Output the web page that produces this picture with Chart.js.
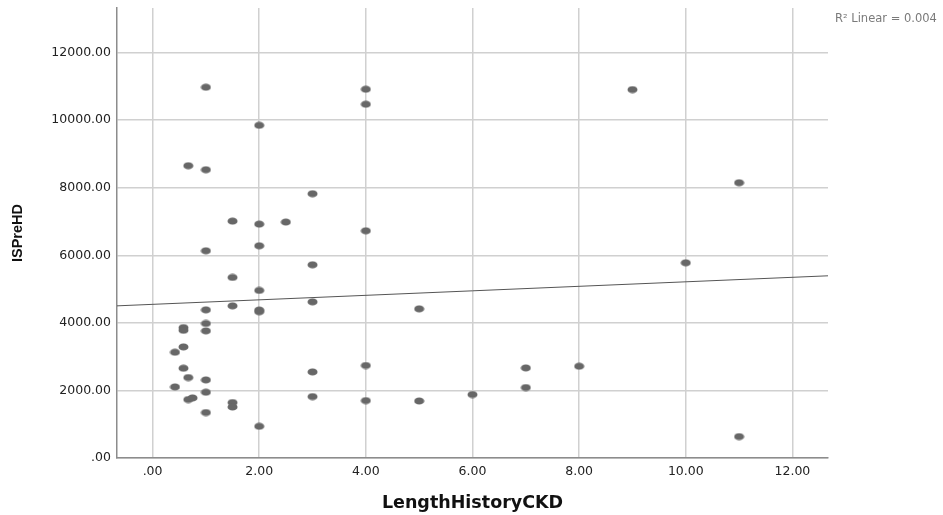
<!DOCTYPE html>
<html lang="en">
<head>
    <meta charset="UTF-8" />
    <title>ISPreHD vs LengthHistoryCKD</title>
    <script src="https://cdn.jsdelivr.net/npm/chart.js"></script>
    <style>
        * {
            box-sizing: border-box;
            margin: 0;
            padding: 0;
        }

        body {
            background: #ffffff;
            width: 943px;
            height: 515px;
            overflow: hidden;
        }

        .chart-box {
            position: relative;
            width: 943px;
            height: 515px;
        }
    </style>
</head>
<body>
    <div class="chart-box"><canvas id="scatterChart" width="943" height="515"></canvas></div>

    <script>
        // values
        const lengthHistoryCKD = [
            1, 4, 4, 2, 0.67, 1, 3, 1.5, 2, 2.5, 4,
            1, 2, 3, 1.5, 2, 1.5, 3, 1, 2, 2, 5,
            0.58, 0.58, 1, 1, 0.58, 0.42, 0.58, 0.67, 1, 0.42, 1,
            0.67, 0.75, 1.5, 1.5, 1, 2, 3, 3, 4, 4, 5,
            9, 11, 10, 7, 7, 8, 6, 11
        ];
        const isPreHD = [
            10975, 10916, 10471, 9849, 8652, 8533, 7822, 7013, 6924, 6984, 6726,
            6133, 6281, 5719, 5345, 4960, 4504, 4622, 4385, 4380, 4330, 4415,
            3860, 3780, 3982, 3763, 3289, 3132, 2658, 2382, 2311, 2104, 1947,
            1730, 1778, 1641, 1511, 1345, 939, 2548, 1818, 2738, 1700, 1689,
            10904, 8148, 5778, 2667, 2086, 2717, 1878, 634
        ];
        const xTicks = [0, 2, 4, 6, 8, 10, 12];
        const yTicks = [0, 2000, 4000, 6000, 8000, 10000, 12000];
        const xRange = [-0.667, 12.667];
        const yRange = [0, 13320];

        // linear fit as printed on the chart
        const fitIntercept = 4548;
        const fitSlope = 66.7;
        const rSquaredLabel = 'R\u00B2 Linear = 0.004';

        const points = lengthHistoryCKD.map((x, i) => ({ x: x, y: isPreHD[i] }));
        const fitLine = xRange.map(x => ({ x: x, y: fitIntercept + fitSlope * x }));

        // SPSS markers come out slightly squashed, draw them as small ellipses
        function makeDot() {
            const c = document.createElement('canvas');
            c.width = 11;
            c.height = 8;
            const g = c.getContext('2d');
            g.fillStyle = '#676767';
            g.beginPath();
            g.ellipse(5.5, 4, 5, 3.6, 0, 0, Math.PI * 2);
            g.fill();
            return c;
        }

        function spssFormat(v) {
            return v === 0 ? '.00' : v.toFixed(2);
        }

        const rLabelPlugin = {
            id: 'rLabel',
            afterDraw(chart) {
                const ctx = chart.ctx;
                ctx.save();
                ctx.font = '11.5px "DejaVu Sans"';
                ctx.fillStyle = '#7a7a7a';
                ctx.textAlign = 'left';
                ctx.textBaseline = 'middle';
                ctx.fillText(rSquaredLabel, 835, 19);
                ctx.restore();
            }
        };

        const tickFont = { family: '"DejaVu Sans"', size: 12.5 };

        new Chart(document.getElementById('scatterChart').getContext('2d'), {
            type: 'scatter',
            data: {
                datasets: [
                    {
                        label: 'ISPreHD',
                        data: points,
                        pointStyle: makeDot(),
                        pointRadius: 5,
                        order: 1
                    },
                    {
                        type: 'line',
                        label: 'Fit',
                        data: fitLine,
                        borderColor: '#555555',
                        borderWidth: 1,
                        pointRadius: 0,
                        fill: false,
                        order: 2
                    }
                ]
            },
            options: {
                responsive: false,
                devicePixelRatio: 1,
                animation: false,
                layout: { padding: { left: 0, right: 115, top: 8, bottom: 0 } },
                plugins: {
                    legend: { display: false },
                    tooltip: { enabled: false }
                },
                scales: {
                    x: {
                        type: 'linear',
                        min: xRange[0],
                        max: xRange[1],
                        afterBuildTicks: s => { s.ticks = xTicks.map(v => ({ value: v })); },
                        afterFit: s => { s.height = 57; },
                        grid: { color: '#d0d0d0', lineWidth: 1.5, drawTicks: false },
                        border: { color: '#8c8c8c', width: 1.5 },
                        ticks: {
                            color: '#222',
                            font: tickFont,
                            padding: 6,
                            maxRotation: 0,
                            callback: v => spssFormat(v)
                        },
                        title: {
                            display: true,
                            text: 'LengthHistoryCKD',
                            color: '#111',
                            font: { family: '"DejaVu Sans"', size: 17.5, weight: 'bold' },
                            padding: { top: 0, bottom: 1.5 }
                        }
                    },
                    y: {
                        type: 'linear',
                        min: yRange[0],
                        max: yRange[1],
                        afterBuildTicks: s => { s.ticks = yTicks.map(v => ({ value: v })); },
                        afterFit: s => {
                            s.width = 117;
                            s.paddingTop = 0;
                            s.paddingBottom = 0;
                        },
                        grid: { color: '#d0d0d0', lineWidth: 1.5, drawTicks: false },
                        border: { color: '#8c8c8c', width: 1.5 },
                        ticks: {
                            color: '#222',
                            font: tickFont,
                            padding: 6,
                            callback: v => spssFormat(v)
                        },
                        title: {
                            display: true,
                            text: 'ISPreHD',
                            color: '#111',
                            font: { family: '"Liberation Sans"', size: 14.5, weight: 'bold' },
                            padding: { top: 9, bottom: 0 }
                        }
                    }
                }
            },
            plugins: [rLabelPlugin]
        });
    </script>
</body>
</html>
